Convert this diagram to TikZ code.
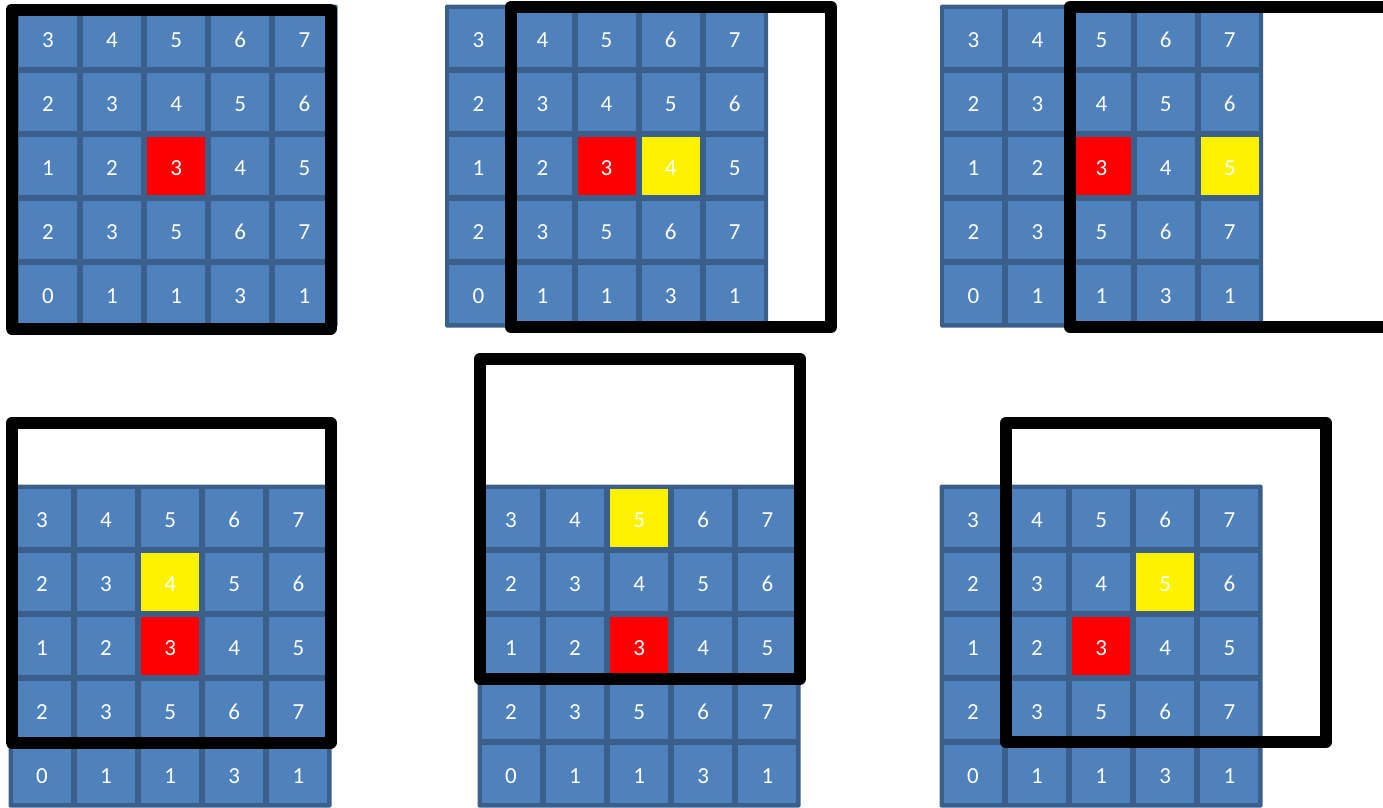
\documentclass[tikz,border=0pt]{standalone}
\usepackage{fontspec}
\setmainfont{Carlito}
\definecolor{cellblue}{HTML}{4F81BD}
\definecolor{celledge}{HTML}{3A5F8B}
\tikzset{
  cellbox/.style={minimum size=58.1pt, inner sep=0pt, outer sep=0pt, text=white,
    text height=18.6pt, text depth=0pt,
    font=\fontsize{23}{27}\selectfont},
  gridbg/.style={fill=celledge, rounded corners=1.5pt},
  window/.style={draw=black, line width=12pt, line join=round},
}
% #1 name, #2 x, #3 y, #4 yellow row, #5 yellow col
\newcommand\drawgrid[5]{%
  \fill[gridbg] (#2,#3) rectangle ++(323,323);
  \foreach \vals [count=\r] in {{3,4,5,6,7},{2,3,4,5,6},{1,2,3,4,5},{2,3,5,6,7},{0,1,1,3,1}}{
    \foreach \v [count=\c] in \vals {
      \def\cf{cellblue}
      \ifnum\r=#4 \ifnum\c=#5 \def\cf{yellow}\fi\fi
      \ifnum\r=3 \ifnum\c=3 \def\cf{red}\fi\fi
      \node[cellbox, fill=\cf] (#1-\r-\c) at ({#2+33.35+(\c-1)*64.1},{#3+33.35+(\r-1)*64.1}) {\v};
    }
  }
}
\begin{document}
\begin{tikzpicture}[x=1pt,y=-1pt]
\useasboundingbox (0,0) rectangle (1383,807);
\clip (0,0) rectangle (1383,807);
% panel 1
\drawgrid{ga}{14.6}{4.6}{0}{0}
\draw[window] (11.5,9.5) rectangle (330.5,328.5);
% panel 2
\drawgrid{gb}{445}{4.6}{3}{4}
\draw[window] (511,7) rectangle (831,327);
% panel 3
\drawgrid{gc}{940}{4.6}{3}{5}
\draw[window] (1070,7) rectangle (1390,327);
% panel 4
\drawgrid{gd}{8.6}{484.6}{2}{3}
\draw[window] (11.5,423) rectangle (330.5,742.5);
% panel 5
\drawgrid{ge}{477.6}{484.6}{1}{3}
\draw[window] (480,359) rectangle (800,678.5);
% panel 6
\drawgrid{gf}{939.6}{484.6}{2}{4}
\draw[window] (1006,423) rectangle (1326,742);
\end{tikzpicture}
\end{document}
